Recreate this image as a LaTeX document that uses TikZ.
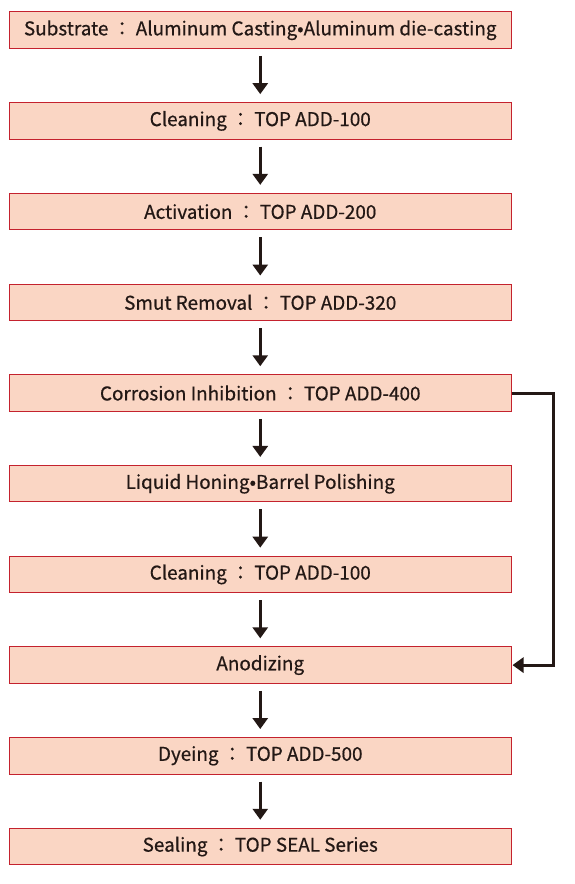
\documentclass[tikz,border=0pt]{standalone}
\usepackage{fontspec}
\newfontfamily\jpfont[FakeBold=0.6]{Noto Sans CJK JP}
\usetikzlibrary{arrows.meta}
\definecolor{boxfill}{HTML}{FAD6C4}
\definecolor{boxline}{HTML}{C4222E}
\definecolor{inkdark}{HTML}{231815}
\tikzset{
  stepbox/.style={shape=rectangle, draw=boxline, fill=boxfill, line width=1pt,
    minimum width=501.5pt, minimum height=36.5pt, inner sep=0pt,
    text=inkdark, font=\jpfont\fontsize{18.9}{21}\selectfont},
  flowarrow/.style={draw=inkdark, line width=3pt, -{Triangle[width=15pt,length=11pt]}}
}
\begin{document}
\begin{tikzpicture}[x=1pt, y=-1pt]
	\useasboundingbox (0, 0) rectangle (574, 884);
	% Process steps:
	\node[stepbox] (s1) at (260.25, 30.2){Substrate ： Aluminum Casting•Aluminum die-casting};
	\node[stepbox] (s2) at (260.25, 120.9){Cleaning ： TOP ADD-100};
	\node[stepbox] (s3) at (260.25, 211.6){Activation ： TOP ADD-200};
	\node[stepbox] (s4) at (260.25, 302.3){Smut Removal ： TOP ADD-320};
	\node[stepbox] (s5) at (260.25, 393.0){Corrosion Inhibition ： TOP ADD-400};
	\node[stepbox] (s6) at (260.25, 483.7){Liquid Honing•Barrel Polishing};
	\node[stepbox] (s7) at (260.25, 574.4){Cleaning ： TOP ADD-100};
	\node[stepbox] (s8) at (260.25, 665.1){Anodizing};
	\node[stepbox] (s9) at (260.25, 755.8){Dyeing ： TOP ADD-500};
	\node[stepbox] (s10) at (260.25, 846.5){Sealing ： TOP SEAL Series};
	% Arrows:
	\draw[flowarrow] ([yshift=-7pt]s1.south) -- ([yshift=8pt]s2.north);
	\draw[flowarrow] ([yshift=-7pt]s2.south) -- ([yshift=8pt]s3.north);
	\draw[flowarrow] ([yshift=-7pt]s3.south) -- ([yshift=8pt]s4.north);
	\draw[flowarrow] ([yshift=-7pt]s4.south) -- ([yshift=8pt]s5.north);
	\draw[flowarrow] ([yshift=-7pt]s5.south) -- ([yshift=8pt]s6.north);
	\draw[flowarrow] ([yshift=-7pt]s6.south) -- ([yshift=8pt]s7.north);
	\draw[flowarrow] ([yshift=-7pt]s7.south) -- ([yshift=8pt]s8.north);
	\draw[flowarrow] ([yshift=-7pt]s8.south) -- ([yshift=8pt]s9.north);
	\draw[flowarrow] ([yshift=-7pt]s9.south) -- ([yshift=8pt]s10.north);
	% Bypass:
	\draw[flowarrow] (s5.east) -- ++(41.5, 0) |- ([xshift=1pt]s8.east);
\end{tikzpicture}
\end{document}
